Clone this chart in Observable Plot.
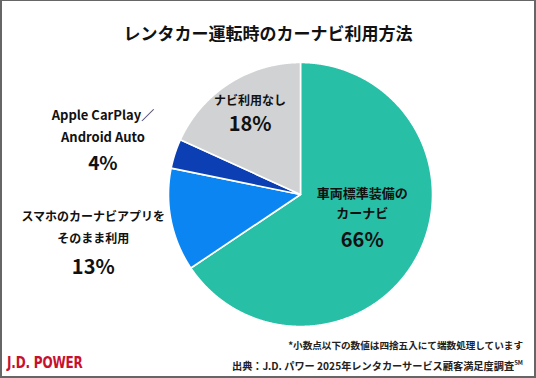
<!DOCTYPE html>
<html><head><meta charset="utf-8">
<script src="https://cdn.jsdelivr.net/npm/d3@7"></script>
<script src="https://cdn.jsdelivr.net/npm/@observablehq/plot@0.6"></script>
<style>
html,body{margin:0;padding:0;background:#fff;}
#frame{position:relative;width:536px;height:378px;overflow:hidden;background:#fff;font-family:"Noto Sans CJK JP","Noto Sans",sans-serif;}
#border{position:absolute;left:0;top:0;width:536px;height:378px;box-sizing:border-box;border:2px solid #666;border-top-width:1px;pointer-events:none;}
#title{position:absolute;left:0;top:21px;width:536px;text-align:center;font-size:17px;font-weight:700;line-height:24px;color:#111;}
#chart{position:absolute;left:0;top:50px;}
.note{position:absolute;right:13px;font-size:9.6px;font-weight:700;color:#222;white-space:nowrap;line-height:12px;}
#logo{position:absolute;left:7px;top:353px;font-family:"DejaVu Sans Condensed","Liberation Sans Narrow",sans-serif;font-weight:700;font-size:15.5px;color:#c8102e;line-height:20px;transform:scaleX(0.86);transform-origin:left center;letter-spacing:-0.2px;}
</style></head>
<body>
<div id="frame">
  <div id="title">レンタカー運転時のカーナビ利用方法</div>
  <div id="chart"></div>
  <div class="note" style="top:339px">*小数点以下の数値は四捨五入にて端数処理しています</div>
  <div class="note" style="top:357px;font-size:10.2px">出典：J.D. パワー 2025年レンタカーサービス顧客満足度調査<sup style="font-size:6px;vertical-align:5px">SM</sup></div>
  <div id="logo">J.D. POWER</div>
  <div id="border"></div>
</div>
<script>
// ---- data ----
const categories = ["車両標準装備のカーナビ", "スマホのカーナビアプリをそのまま利用", "Apple CarPlay／Android Auto", "ナビ利用なし"];
const values = [65.6, 12.6, 3.6, 18.2];
const percentLabels = ["66%", "13%", "4%", "18%"];
const nameLines = [["車両標準装備の", "カーナビ"], ["スマホのカーナビアプリを", "そのまま利用"], ["Apple CarPlay／", "Android Auto"], ["ナビ利用なし"]];

// ---- style / layout ----
const colors = ["#27bfa6", "#0b85f2", "#0b3fb3", "#d0d2d3"];
const W = 536, H = 290, R = 132, CX = 300, CY = 144;
// label anchor radius factor and per-line pixel offsets (name lines..., percent)
const labelLayout = [
  {k: 0.53, dx: 0, offsets: [-34, -14, 13]},
  {k: 1.6, dx: 0, offsets: [-18, 4, 32]},
  {k: 1.55, dx: -3, offsets: [-15, 7, 33]},
  {k: 0.72, dx: 1, offsets: [-13, 10]}
];
const nameSize = [13, 12, 13, 12];
const pctSize = [20, 20, 19, 20];

const table = categories.map((c, i) => ({category: c, value: values[i], pct: percentLabels[i], lines: nameLines[i], color: colors[i]}));
const arcs = d3.pie().sort(null).value(d => d.value).startAngle(0).endAngle(2 * Math.PI)(table);

// polygon points per wedge (unit coords, y up)
const wedges = arcs.map(a => {
  const pts = [{x: 0, y: 0}];
  const n = Math.max(2, Math.ceil((a.endAngle - a.startAngle) / 0.005));
  for (let j = 0; j <= n; j++) {
    const t = a.startAngle + (a.endAngle - a.startAngle) * j / n;
    pts.push({x: Math.sin(t), y: Math.cos(t)});
  }
  pts.push({x: 0, y: 0});
  return pts;
});

const texts = [];
arcs.forEach((a, i) => {
  const mid = (a.startAngle + a.endAngle) / 2;
  const L = labelLayout[i];
  const ax = Math.sin(mid) * L.k + L.dx / R, ay = Math.cos(mid) * L.k;
  const lines = a.data.lines;
  lines.forEach((t, j) => texts.push({x: ax, y: ay - L.offsets[j] / R, text: t, size: nameSize[i]}));
  texts.push({x: ax, y: ay - L.offsets[lines.length] / R, text: a.data.pct, size: pctSize[i]});
});

const chart = Plot.plot({
  width: W, height: H,
  margin: 0,
  x: {domain: [-CX / R, (W - CX) / R], axis: null},
  y: {domain: [-(H - CY) / R, CY / R], axis: null},
  marks: [
    ...wedges.map((w, i) => Plot.line(w, {x: "x", y: "y", fill: colors[i], stroke: "#fff", strokeWidth: 1.6, strokeLinejoin: "round"})),
    Plot.text(texts, {x: "x", y: "y", text: "text", fontSize: "size", fontWeight: "bold", fill: "#111", fontFamily: "Noto Sans CJK JP"})
  ]
});
document.getElementById("chart").appendChild(chart);
</script>
</body></html>
